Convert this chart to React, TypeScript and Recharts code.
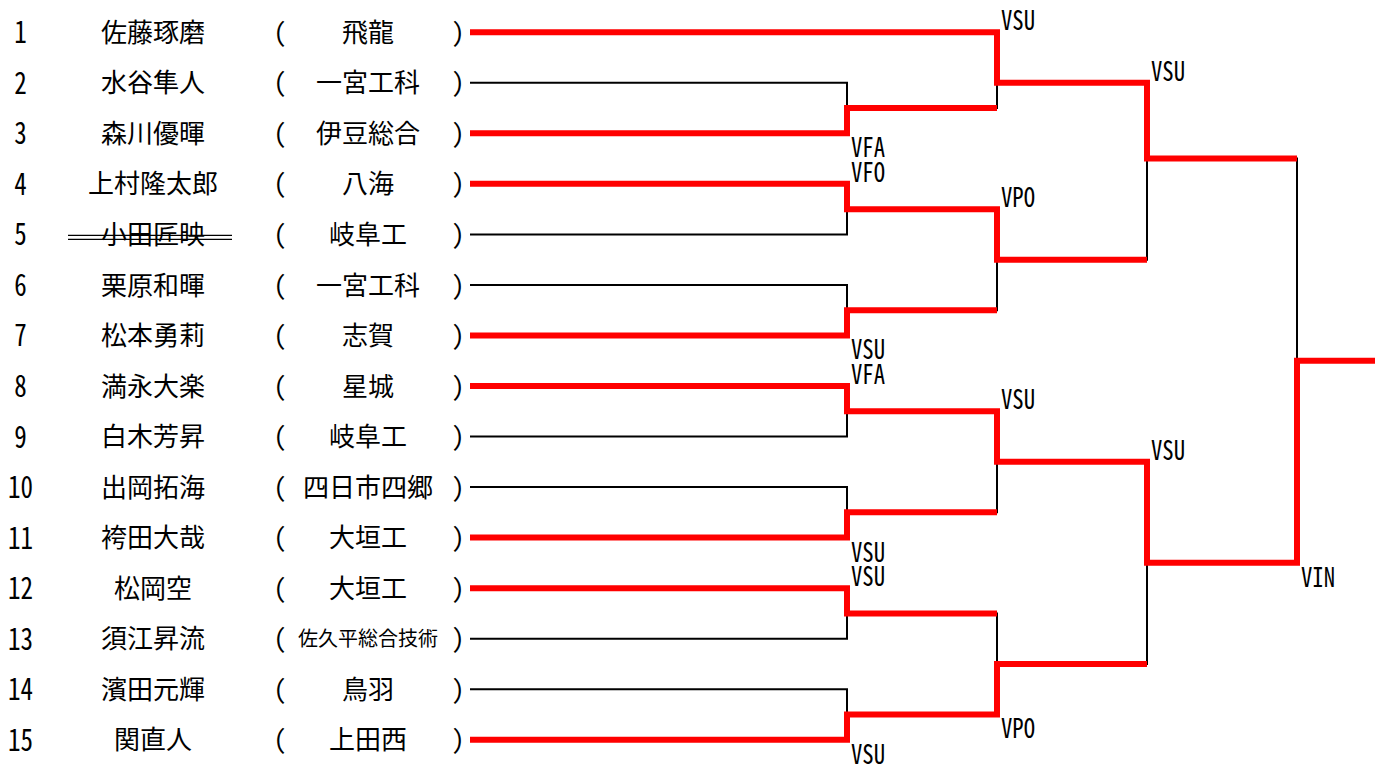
import { ComposedChart, Line, Scatter, XAxis, YAxis } from "recharts";

// entries, top to bottom
const seeds = [1, 2, 3, 4, 5, 6, 7, 8, 9, 10, 11, 12, 13, 14, 15];
const players = [
  "佐藤琢磨", "水谷隼人", "森川優暉", "上村隆太郎", "小田匠映",
  "栗原和暉", "松本勇莉", "満永大楽", "白木芳昇", "出岡拓海",
  "袴田大哉", "松岡空", "須江昇流", "濱田元輝", "関直人",
];
const schools = [
  "飛龍", "一宮工科", "伊豆総合", "八海", "岐阜工",
  "一宮工科", "志賀", "星城", "岐阜工", "四日市四郷",
  "大垣工", "大垣工", "佐久平総合技術", "鳥羽", "上田西",
];
const withdrawn = [5];

// top / bottom: a seed number or the id of an earlier match
// exit: the row (in entry units) where the winner's line leaves the bracket
type Side = "top" | "bottom";
type Match = { id: string; round: number; top: number | string; bottom: number | string; winner: Side; result: string; exit: number };

const matches: Match[] = [
  { id: "r1a", round: 1, top: 2, bottom: 3, winner: "bottom", result: "VFA", exit: 2.5 },
  { id: "r1b", round: 1, top: 4, bottom: 5, winner: "top", result: "VFO", exit: 4.5 },
  { id: "r1c", round: 1, top: 6, bottom: 7, winner: "bottom", result: "VSU", exit: 6.5 },
  { id: "r1d", round: 1, top: 8, bottom: 9, winner: "top", result: "VFA", exit: 8.5 },
  { id: "r1e", round: 1, top: 10, bottom: 11, winner: "bottom", result: "VSU", exit: 10.5 },
  { id: "r1f", round: 1, top: 12, bottom: 13, winner: "top", result: "VSU", exit: 12.5 },
  { id: "r1g", round: 1, top: 14, bottom: 15, winner: "bottom", result: "VSU", exit: 14.5 },
  { id: "r2a", round: 2, top: 1, bottom: "r1a", winner: "top", result: "VSU", exit: 2 },
  { id: "r2b", round: 2, top: "r1b", bottom: "r1c", winner: "top", result: "VPO", exit: 5.5 },
  { id: "r2c", round: 2, top: "r1d", bottom: "r1e", winner: "top", result: "VSU", exit: 9.5 },
  { id: "r2d", round: 2, top: "r1f", bottom: "r1g", winner: "bottom", result: "VPO", exit: 13.5 },
  { id: "r3a", round: 3, top: "r2a", bottom: "r2b", winner: "top", result: "VSU", exit: 3.5 },
  { id: "r3b", round: 3, top: "r2c", bottom: "r2d", winner: "top", result: "VSU", exit: 11.5 },
  { id: "fin", round: 4, top: "r3a", bottom: "r3b", winner: "bottom", result: "VIN", exit: 7.5 },
];

// layout: x of each round's joint (plot units = px), line start at 0
const COLUMN_X = [0, 377, 527, 677, 827];
const END_X = 905;
const FONT = "'Noto Sans Mono CJK JP', 'Noto Sans CJK JP', sans-serif";
const RED = "#ff0000";

const byId = new Map(matches.map((m) => [m.id, m]));
const rowOf = (src: number | string): number =>
  typeof src === "number" ? src : byId.get(src)!.exit;
const colOf = (src: number | string): number =>
  typeof src === "number" ? 0 : COLUMN_X[byId.get(src)!.round];
const entryOf = (src: number | string): number => {
  if (typeof src === "number") return src;
  const m = byId.get(src)!;
  return entryOf(m[m.winner]);
};

type Pt = { x: number; y: number };
const finalMatch = matches[matches.length - 1];

const bracketPaths: Pt[][] = matches.map((m) => [
  { x: colOf(m.top), y: rowOf(m.top) },
  { x: COLUMN_X[m.round], y: rowOf(m.top) },
  { x: COLUMN_X[m.round], y: rowOf(m.bottom) },
  { x: colOf(m.bottom), y: rowOf(m.bottom) },
]);

const routes = new Map<number, Pt[]>(seeds.map((s) => [s, [{ x: 0, y: s }]]));
const wins = new Map<number, number>();
matches.forEach((m) => {
  const col = COLUMN_X[m.round];
  (["top", "bottom"] as Side[]).forEach((side) => {
    const e = entryOf(m[side]);
    const r = routes.get(e)!;
    r.push({ x: col, y: rowOf(m[side]) });
    if (m.winner === side) {
      r.push({ x: col, y: m.exit });
      wins.set(e, (wins.get(e) ?? 0) + 1);
    }
  });
});
routes.get(entryOf(finalMatch[finalMatch.winner]))!.push({ x: END_X, y: finalMatch.exit });
const winnerRoutes = seeds.filter((s) => wins.get(s)).map((s) => routes.get(s)!);

const resultMarks = matches.map((m) => ({
  x: COLUMN_X[m.round],
  y: rowOf(m[m.winner]),
  result: m.result,
  above: m.winner === "top",
}));

const EntryTick = (props: any) => {
  const { y, payload } = props;
  const i = payload.value - 1;
  const school = schools[i];
  const no = String(seeds[i]);
  return (
    <g fontFamily={FONT} fill="#000">
      <text
        x={20.5}
        y={y + 11}
        fontSize={30}
        textAnchor="middle"
        textLength={12.5 * no.length}
        lengthAdjust="spacingAndGlyphs"
      >
        {no}
      </text>
      <text x={153} y={y} dy="0.37em" fontSize={26} textAnchor="middle">{players[i]}</text>
      <text x={280} y={y} dy="0.37em" fontSize={26} textAnchor="middle">(</text>
      <text x={368} y={y} dy="0.37em" fontSize={school.length > 5 ? 20 : 26} textAnchor="middle">{school}</text>
      <text x={458} y={y} dy="0.37em" fontSize={26} textAnchor="middle">)</text>
      {withdrawn.includes(seeds[i]) && (
        <g stroke="#000" strokeWidth={1.2}>
          <line x1={68} x2={232} y1={y + 1} y2={y + 1} />
          <line x1={68} x2={232} y1={y + 5} y2={y + 5} />
        </g>
      )}
    </g>
  );
};

const ResultLabel = (props: any) => {
  const { cx, cy, payload } = props;
  return (
    <text
      x={cx + 4}
      y={payload.above ? cy - 2 : cy + 24}
      fontFamily={FONT}
      fontSize={27}
      textLength={34}
      lengthAdjust="spacingAndGlyphs"
      fill="#000"
    >
      {payload.result}
    </text>
  );
};

export default function App() {
  return (
    <div>
      <style>{"body{margin:0;background:#fff}"}</style>
      <ComposedChart width={1385} height={766} margin={{ top: 7, right: 10, bottom: 1, left: 0 }}>
        <XAxis type="number" dataKey="x" domain={[0, END_X]} allowDataOverflow hide />
        <YAxis
          type="number"
          domain={[0.5, 15.5]}
          ticks={seeds}
          interval={0}
          reversed
          width={470}
          axisLine={false}
          tickLine={false}
          tick={EntryTick}
          allowDataOverflow
        />
        {bracketPaths.map((pts, i) => (
          <Line
            key={`b${i}`}
            data={pts}
            dataKey="y"
            stroke="#000"
            strokeWidth={2}
            dot={false}
            activeDot={false}
            isAnimationActive={false}
            strokeLinejoin="miter"
          />
        ))}
        {winnerRoutes.map((pts, i) => (
          <Line
            key={`w${i}`}
            data={pts}
            dataKey="y"
            stroke={RED}
            strokeWidth={6}
            dot={false}
            activeDot={false}
            isAnimationActive={false}
            strokeLinejoin="miter"
          />
        ))}
        <Scatter data={resultMarks} dataKey="y" shape={ResultLabel} isAnimationActive={false} />
      </ComposedChart>
    </div>
  );
}
